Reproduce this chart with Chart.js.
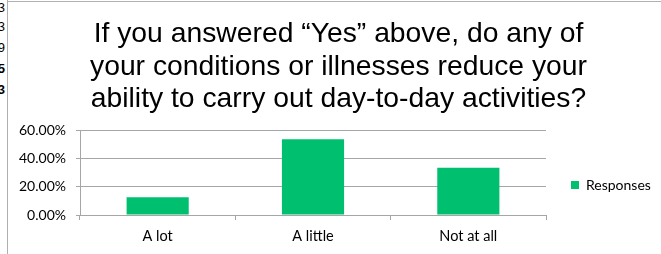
<!DOCTYPE html>
<html>
<head>
<meta charset="utf-8">
<script src="https://cdn.jsdelivr.net/npm/chart.js@4.4.1/dist/chart.umd.min.js"></script>
<style>
  html, body { margin: 0; padding: 0; background: #fff; overflow: hidden; width: 661px; height: 254px; }
  #cells { position: absolute; left: 0; top: 0; width: 6px; height: 120px; overflow: hidden; }
  #cells div { position: absolute; right: 1px; font: 13px "Liberation Sans", Arial, sans-serif; color: #000; line-height: 14px; }
  #frameL { position: absolute; left: 7px; top: 0; width: 1px; height: 254px; background: #b0b0b0; }
  #frameT { position: absolute; left: 7px; top: 1px; width: 660px; height: 1px; background: #b0b0b0; }
  #c { position: absolute; left: 8px; top: 0; }
</style>
</head>
<body>
<div id="cells">
  <div style="top:1px">3</div>
  <div style="top:20px">3</div>
  <div style="top:41px">9</div>
  <div style="top:62px;font-weight:bold">5</div>
  <div style="top:83px;font-weight:bold">3</div>
</div>
<canvas id="c" width="653" height="254"></canvas>
<div id="frameL"></div>
<div id="frameT"></div>
<script>
const titleLines = [
  "If you answered \u201cYes\u201d above, do any of",
  "your conditions or illnesses reduce your",
  "ability to carry out day-to-day activities?"
];
const categories = ["A lot", "A little", "Not at all"];
const seriesName = "Responses";
const responses = [12.5, 53.5, 33.3];
const yTicks = [0, 20, 40, 60];

const GRID = '#a6a6a6';
const LABEL_FONT = { family: 'Lato', size: 14.5 };
const LEGEND_FONT = { family: 'Lato', size: 14 };
const Y_FONT = { family: 'Lato', size: 14 };

// layout targets (canvas coordinates)
const W = 653;
const PLOT_LEFT = 72, PLOT_RIGHT = 538, TITLE_CENTER = 330.5;
const LEG_PAD = 25, LEG_BOX = 8;
const mctx = document.createElement('canvas').getContext('2d');
mctx.font = LEGEND_FONT.size + 'px ' + LEGEND_FONT.family;
const legendW = LEG_PAD + LEG_BOX + LEGEND_FONT.size / 2 + mctx.measureText(seriesName).width + 10;
const innerRight = PLOT_RIGHT + legendW;
const PAD_R = W - innerRight;
const PAD_L = 2 * TITLE_CENTER - innerRight;

new Chart(document.getElementById('c'), {
  type: 'bar',
  data: {
    labels: categories,
    datasets: [{
      label: seriesName,
      data: responses,
      backgroundColor: '#00c070',
      borderWidth: 0,
      barPercentage: 0.4,
      categoryPercentage: 1.0
    }]
  },
  options: {
    responsive: false,
    animation: false,
    devicePixelRatio: 1,
    layout: { padding: { left: PAD_L, right: PAD_R, top: 0, bottom: 0 } },
    plugins: {
      title: {
        display: true,
        text: titleLines,
        color: '#000',
        font: { family: '"Liberation Sans", Arial, sans-serif', size: 28.3, weight: 'normal', lineHeight: '32.5px' },
        padding: { top: 18, bottom: 14.5 }
      },
      legend: {
        display: true,
        position: 'right',
        align: 'center',
        fullSize: false,
        title: { display: true, text: ' ', font: { family: 'Lato', size: 12, lineHeight: 1.2 }, padding: 5.3 },
        labels: {
          boxWidth: LEG_BOX,
          boxHeight: LEG_BOX,
          padding: LEG_PAD,
          color: '#000',
          font: LEGEND_FONT
        }
      },
      tooltip: { enabled: false }
    },
    scales: {
      x: {
        grid: { display: true, drawOnChartArea: false, drawTicks: true, tickLength: 5, color: GRID, offset: true },
        border: { display: true, color: GRID },
        ticks: { color: '#000', font: LABEL_FONT, padding: 7.4, maxRotation: 0 },
        afterFit: s => { s.height = 39; }
      },
      y: {
        min: 0,
        max: 60,
        afterBuildTicks: s => { s.ticks = yTicks.map(v => ({ value: v })); },
        grid: { color: GRID, drawTicks: true, tickLength: 4 },
        border: { display: true, color: GRID },
        ticks: {
          color: '#000',
          font: Y_FONT,
          padding: 10,
          callback: v => v.toFixed(2) + '%'
        },
        afterFit: s => { s.width = PLOT_LEFT - PAD_L; }
      }
    }
  }
});
</script>
</body>
</html>
